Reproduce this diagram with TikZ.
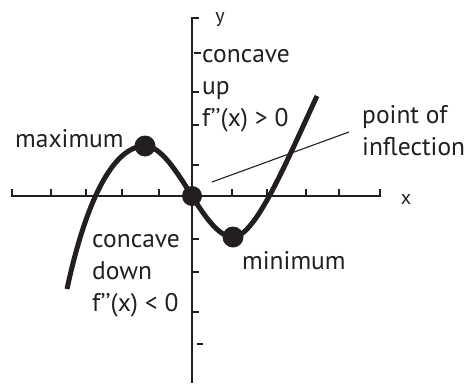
\documentclass[tikz,border=0pt]{standalone}
\usepackage{fontspec}
\setmainfont{PT Sans}
\definecolor{ink}{HTML}{231F20}
\begin{document}
\begin{tikzpicture}[x=1pt,y=-1pt,
  axisline/.style={draw=ink,line width=2pt},
  tickmark/.style={draw=ink,line width=1.8pt},
  curveline/.style={draw=ink,line width=5pt},
  dotnode/.style={circle,fill=ink,inner sep=0pt,minimum size=21pt},
  lbl/.style={font=\fontsize{25.5}{32}\selectfont,inner sep=0pt,anchor=base west,align=left,text=ink},
  axlbl/.style={font=\fontsize{20}{24}\selectfont,inner sep=0pt,anchor=base,text=ink},
  leader/.style={draw=ink,line width=1.1pt}]
\useasboundingbox (0,0) rectangle (465,383);
% axes
\draw[axisline] (12,189) -- (12,196) -- (380,196) -- (380,189);
\draw[axisline] (199,18) -- (192,18) -- (192,383);
% x ticks
\foreach \xx in {51,86,122,159,232,267,306,339}
  \draw[tickmark] (\xx,196) -- (\xx,189);
% y ticks
\foreach \yy in {92,125,165,239,272,312}
  \draw[tickmark] (192,\yy) -- (199,\yy);
\draw[tickmark] (194,53) -- (201,53);
\draw[tickmark] (197,344) -- (203,344);
% curve
\coordinate (c0) at (67,289);
\coordinate (cmax) at (145,146);
\coordinate (cinf) at (192,196);
\coordinate (cmin) at (233,237);
\coordinate (c1) at (317,96);
\draw[curveline] (c0) .. controls (85,205) and (112,146) .. (cmax)
  .. controls (160.7,146) and (176.3,171) .. (cinf)
  .. controls (205.7,218) and (219.3,237) .. (cmin)
  .. controls (255,237) and (285,165) .. (c1);
\node[dotnode] (dmax) at (cmax) {};
\node[dotnode,minimum size=20pt] (dinf) at (cinf) {};
\node[dotnode] (dmin) at (cmin) {};
% labels (anchor at the baseline of the last line)
\node[lbl] (tmax) at (15,147) {maximum};
\node[lbl] (tmin) at (242,269) {minimum};
\node[lbl] (tup) at (202,126) {concave\\up\\f’’(x) > 0};
\node[lbl] (tdown) at (92,311) {concave\\down\\f’’(x) < 0};
\node[lbl] (tpoi) at (362,155) {point of\\inflection};
\node[axlbl] (tx) at (406,204) {x};
\node[axlbl] (ty) at (220,22) {y};
% leader
\coordinate (la) at (212,182);
\coordinate (lb) at (349,132);
\draw[leader] (la) -- (lb);
\end{tikzpicture}
\end{document}
